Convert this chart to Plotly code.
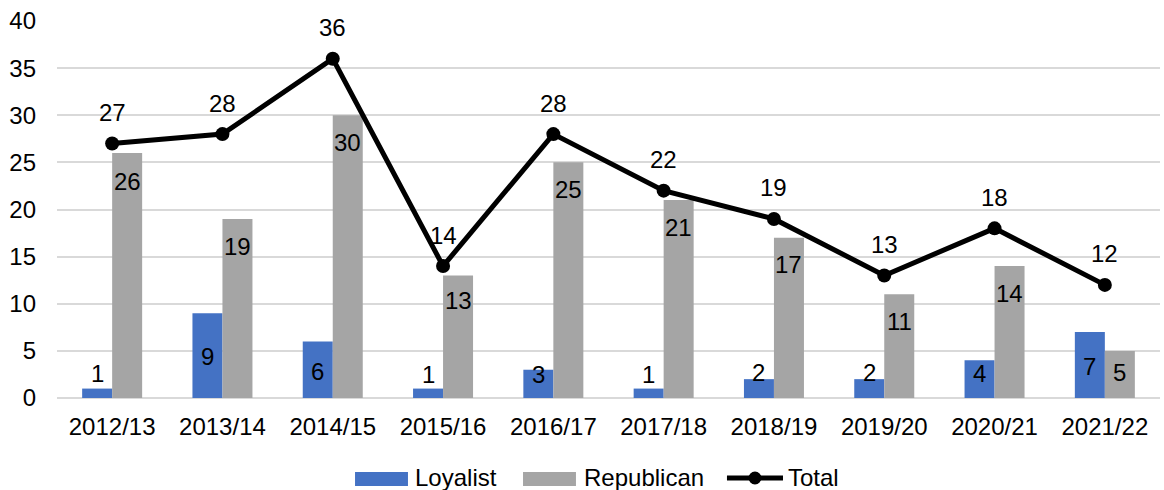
import plotly.graph_objects as go

categories = ["2012/13", "2013/14", "2014/15", "2015/16", "2016/17",
              "2017/18", "2018/19", "2019/20", "2020/21", "2021/22"]
loyalist = [1, 9, 6, 1, 3, 1, 2, 2, 4, 7]
republican = [26, 19, 30, 13, 25, 21, 17, 11, 14, 5]
total = [27, 28, 36, 14, 28, 22, 19, 13, 18, 12]
series_names = ["Loyalist", "Republican", "Total"]

# label anchor heights (data units) as placed in the original chart
loyalist_label_y = [2.6, 4.4, 2.8, 2.5, 2.5, 2.5, 2.7, 2.7, 2.6, 3.3]
republican_label_y = [23.0, 16.1, 27.1, 10.3, 22.1, 18.1, 14.2, 8.1, 11.1, 2.7]

FONT = "Liberation Sans, Arial, sans-serif"
FS = 24
BLUE = "#4472C4"
GRAY = "#A5A5A5"

fig = go.Figure()
fig.add_trace(go.Bar(x=categories, y=loyalist, name=series_names[0],
                     marker=dict(color=BLUE, line=dict(width=0)), showlegend=False))
fig.add_trace(go.Bar(x=categories, y=republican, name=series_names[1],
                     marker=dict(color=GRAY, line=dict(width=0)), showlegend=False))
fig.add_trace(go.Scatter(x=categories, y=total, name=series_names[2], mode="lines+markers",
                         line=dict(color="black", width=5),
                         marker=dict(color="black", size=14), showlegend=False))

annotations = []
for i, c in enumerate(categories):
    annotations.append(dict(x=c, y=loyalist_label_y[i], text=str(loyalist[i]),
                            xshift=-15, showarrow=False, yanchor="middle",
                            font=dict(size=FS, color="black", family=FONT)))
    annotations.append(dict(x=c, y=republican_label_y[i], text=str(republican[i]),
                            xshift=15, showarrow=False, yanchor="middle",
                            font=dict(size=FS, color="black", family=FONT)))
    annotations.append(dict(x=c, y=total[i], text=str(total[i]), yshift=31,
                            showarrow=False, yanchor="middle",
                            font=dict(size=FS, color="black", family=FONT)))

# manual legend (paper coordinates)
LY = -0.2122
shapes = [
    dict(type="rect", xref="paper", yref="paper", x0=0.2702, x1=0.3182,
         y0=-0.2334, y1=-0.1963, fillcolor=BLUE, line=dict(width=0)),
    dict(type="rect", xref="paper", yref="paper", x0=0.4225, x1=0.4705,
         y0=-0.2334, y1=-0.1963, fillcolor=GRAY, line=dict(width=0)),
    dict(type="line", xref="paper", yref="paper", x0=0.6074, x1=0.6582,
         y0=LY, y1=LY, line=dict(color="black", width=5)),
    dict(type="circle", xref="paper", yref="paper", x0=0.6328 - 0.0059, x1=0.6328 + 0.0059,
         y0=LY - 0.0172, y1=LY + 0.0172, fillcolor="black", line=dict(width=0)),
]
for name, xp in zip(series_names, [0.3228, 0.4760, 0.6609]):
    annotations.append(dict(xref="paper", yref="paper", x=xp, y=LY, text=name,
                            xanchor="left", yanchor="middle", showarrow=False,
                            font=dict(size=FS, color="black", family=FONT)))

fig.update_layout(
    width=1164, height=490,
    margin=dict(l=57, r=4, t=21, b=92),
    paper_bgcolor="white", plot_bgcolor="white",
    barmode="group", bargap=0.456, bargroupgap=0,
    font=dict(family=FONT, size=FS, color="black"),
    annotations=annotations, shapes=shapes,
    showlegend=False,
    xaxis=dict(showgrid=False, showline=False, ticks="", tickfont=dict(size=FS),
               automargin=False, ticklabelstandoff=12, range=[-0.5, len(categories) - 0.5]),
    yaxis=dict(range=[0, 40], dtick=5, showgrid=True, gridcolor="#D9D9D9", gridwidth=1.5,
               zeroline=True, zerolinecolor="#D9D9D9", zerolinewidth=1.5,
               showline=False, ticks="", tickfont=dict(size=FS), ticklabelstandoff=20,
               automargin=False),
)

fig.write_html("out.html", config={"displayModeBar": False},
               post_script="document.body.style.margin='0';document.body.style.overflow='hidden';")
